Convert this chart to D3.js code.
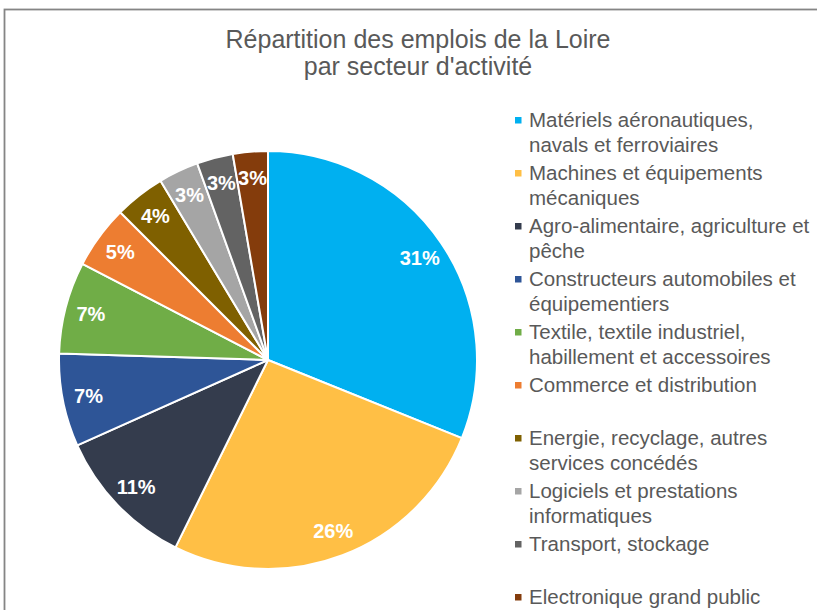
<!DOCTYPE html>
<html>
<head>
<meta charset="utf-8">
<script src="https://cdn.jsdelivr.net/npm/d3@7"></script>
<style>
    body { margin: 0; background: #fff; }
    svg { display: block; }
</style>
</head>
<body>
<script>
// Chart data (percent of jobs per sector)
var sectors = [
    "Matériels aéronautiques, navals et ferroviaires",
    "Machines et équipements mécaniques",
    "Agro-alimentaire, agriculture et pêche",
    "Constructeurs automobiles et équipementiers",
    "Textile, textile industriel, habillement et accessoires",
    "Commerce et distribution",
    "Energie, recyclage, autres services concédés",
    "Logiciels et prestations informatiques",
    "Transport, stockage",
    "Electronique grand public"
];
// legend lines as they wrap in the picture
var legendLines = [
    ["Matériels aéronautiques,", "navals et ferroviaires"],
    ["Machines et équipements", "mécaniques"],
    ["Agro-alimentaire, agriculture et", "pêche"],
    ["Constructeurs automobiles et", "équipementiers"],
    ["Textile, textile industriel,", "habillement et accessoires"],
    ["Commerce et distribution"],
    ["Energie, recyclage, autres", "services concédés"],
    ["Logiciels et prestations", "informatiques"],
    ["Transport, stockage"],
    ["Electronique grand public"]
];
var shares = [31.1, 26.2, 11.0, 7.2, 7.1, 4.9, 3.9, 3.1, 2.8, 2.7];
var colors = ["#00B0F0", "#FFBF45", "#343C4D", "#2E5597", "#70AD47",
              "#ED7D31", "#7F6000", "#A5A5A5", "#636363", "#843C0C"];
var titleLines = ["Répartition des emplois de la Loire",
                  "par secteur d'activité"];

var width = 817, height = 610;
var cx = 268, cy = 360, radius = 209;
var font = "Arial, 'Liberation Sans', sans-serif";

var svg = d3.select("body").append("svg")
    .attr("width", width)
    .attr("height", height);

// chart area border (cut off on the right and bottom)
svg.append("rect")
    .attr("x", 4.5)
    .attr("y", 9.5)
    .attr("width", 900)
    .attr("height", 700)
    .attr("fill", "#fff")
    .attr("stroke", "#858585")
    .attr("stroke-width", 1.8);

// Title
svg.append("text")
    .attr("y", 48)
    .attr("text-anchor", "middle")
    .attr("font-family", font)
    .attr("font-size", "25px")
    .attr("fill", "#595959")
    .selectAll("tspan")
    .data(titleLines)
    .enter()
    .append("tspan")
    .attr("x", 418)
    .attr("dy", function(d, i) { return i === 0 ? 0 : 27; })
    .text(function(d) { return d; });

var color = d3.scaleOrdinal().domain(sectors).range(colors);

var data = sectors.map(function(s, i) {
    return {key: s, value: shares[i]};
});

var pie = d3.pie()
    .sort(null)
    .value(function(d) { return d.value; });

var arc = d3.arc().innerRadius(0).outerRadius(radius);
var labelArc = d3.arc().innerRadius(183).outerRadius(183);

var g = svg.append("g")
    .attr("transform", "translate(" + cx + "," + cy + ")");

var slices = pie(data);

g.selectAll("path")
    .data(slices)
    .enter()
    .append("path")
    .attr("d", arc)
    .attr("fill", function(d) { return color(d.data.key); })
    .attr("stroke", "#fff")
    .attr("stroke-width", 2)
    .attr("stroke-linejoin", "round");

g.selectAll("text.lbl")
    .data(slices)
    .enter()
    .append("text")
    .attr("class", "lbl")
    .attr("transform", function(d) {
        return "translate(" + labelArc.centroid(d) + ")";
    })
    .attr("text-anchor", "middle")
    .attr("dy", "0.36em")
    .attr("font-family", font)
    .attr("font-size", "20px")
    .attr("font-weight", "bold")
    .attr("fill", "#fff")
    .text(function(d) { return Math.round(d.data.value) + "%"; });

// Legend: one slot of two lines per sector
var legendY = d3.scaleLinear().domain([0, 9]).range([120, 597]);

var legend = svg.selectAll("g.legend")
    .data(sectors)
    .enter()
    .append("g")
    .attr("class", "legend")
    .attr("transform", function(d, i) {
        return "translate(515," + legendY(i) + ")";
    });

legend.append("rect")
    .attr("x", 0)
    .attr("y", -3)
    .attr("width", 6.5)
    .attr("height", 6.5)
    .attr("fill", function(d) { return color(d); });

legend.append("text")
    .attr("font-family", font)
    .attr("font-size", "20.5px")
    .attr("fill", "#595959")
    .selectAll("tspan")
    .data(function(d, i) { return legendLines[i]; })
    .enter()
    .append("tspan")
    .attr("x", 14)
    .attr("y", function(d, i) { return i * 24.5; })
    .attr("dy", "0.36em")
    .text(function(d) { return d; });
</script>
</body>
</html>
